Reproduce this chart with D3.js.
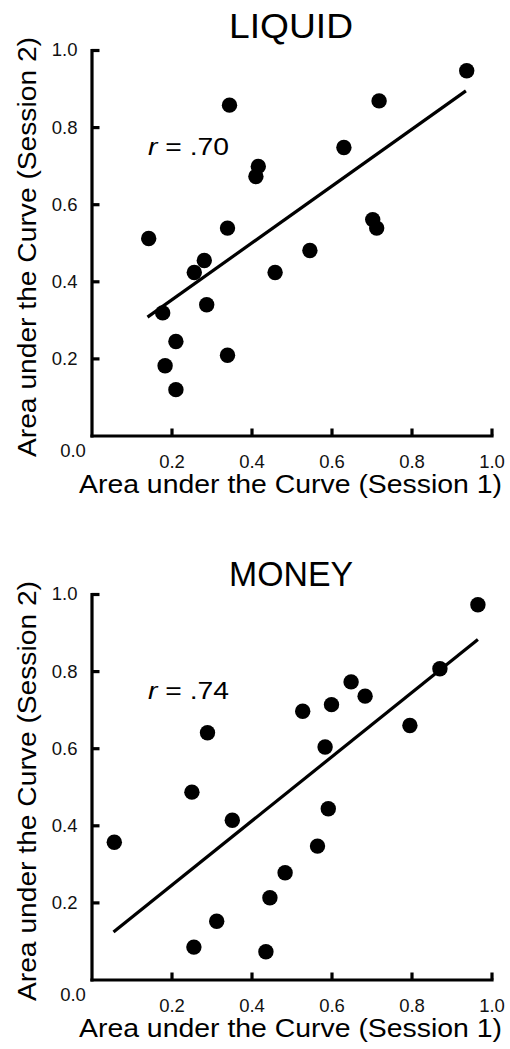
<!DOCTYPE html>
<html lang="en">
<head>
    <meta charset="UTF-8">
    <title>AUC test-retest</title>
    <script src="https://d3js.org/d3.v7.min.js"></script>
    <style>
        html, body {
            margin: 0;
            background: white;
            font-family: "Liberation Sans", Arial, sans-serif;
        }
    </style>
</head>
<body>
    <div id="vis"></div>
    <script>

        // values
        var liquidX = [0.938, 0.345, 0.719, 0.631, 0.417, 0.411, 0.143, 0.340, 0.703, 0.713,
                       0.282, 0.257, 0.459, 0.546, 0.288, 0.178, 0.211, 0.340, 0.184, 0.211];
        var liquidY = [0.946, 0.857, 0.868, 0.747, 0.698, 0.672, 0.511, 0.538, 0.560, 0.538,
                       0.454, 0.423, 0.423, 0.480, 0.339, 0.318, 0.244, 0.208, 0.181, 0.119];
        var moneyX = [0.966, 0.871, 0.649, 0.684, 0.600, 0.528, 0.796, 0.290, 0.584, 0.251,
                      0.592, 0.352, 0.057, 0.565, 0.484, 0.446, 0.313, 0.256, 0.436];
        var moneyY = [0.972, 0.806, 0.772, 0.735, 0.713, 0.696, 0.659, 0.640, 0.603, 0.486,
                      0.443, 0.413, 0.356, 0.346, 0.277, 0.212, 0.151, 0.084, 0.072];
        // fit line end points [x, y]
        var liquidFit = [[0.140, 0.307], [0.936, 0.894]];
        var moneyFit = [[0.055, 0.123], [0.966, 0.882]];

        var titles = ["LIQUID", "MONEY"];
        var rLabels = [".70", ".74"];
        var tickValues = [0.2, 0.4, 0.6, 0.8, 1.0];
        var xLabel = "Area under the Curve (Session 1)";
        var yLabel = "Area under the Curve (Session 2)";

        var panels = [
            {title: titles[0], r: rLabels[0], xs: liquidX, ys: liquidY, fit: liquidFit, base: 435.5, titleY: 38},
            {title: titles[1], r: rLabels[1], xs: moneyX, ys: moneyY, fit: moneyFit, base: 979.5, titleY: 586}
        ];

        var width = 510, height = 1049;

        var svg = d3.select('#vis')
                    .append('svg')
                        .attr('width', width)
                        .attr('height', height);

        var x_scale = d3.scaleLinear()
                    .domain([0, 1])
                    .range([91.5, 491.5]);

        panels.forEach(function(p){

            var y_scale = d3.scaleLinear()
                        .domain([0, 1])
                        .range([p.base, p.base - 385.5]);

            var g = svg.append('g');

            var x_axis = d3.axisBottom(x_scale)
                        .tickValues(tickValues)
                        .tickFormat(d3.format('.1f'))
                        .tickSizeInner(-7)
                        .tickSizeOuter(0)
                        .tickPadding(19);

            var y_axis = d3.axisLeft(y_scale)
                        .tickValues(tickValues)
                        .tickFormat(d3.format('.1f'))
                        .tickSizeInner(-8)
                        .tickSizeOuter(0)
                        .tickPadding(14);

            var gx = g.append('g')
                .attr('transform', 'translate(0,' + p.base + ')')
                .call(x_axis);

            var gy = g.append('g')
                .attr('transform', 'translate(' + x_scale(0) + ',0)')
                .call(y_axis);

            [gx, gy].forEach(function(a){
                a.attr('font-family', null).attr('font-size', null);
                a.select('.domain')
                    .attr('stroke', 'black')
                    .attr('stroke-width', 3.2)
                    .attr('stroke-linecap', 'square');
                a.selectAll('.tick line')
                    .attr('stroke', 'black')
                    .attr('stroke-width', 3.2);
                a.selectAll('.tick text')
                    .attr('fill', '#111')
                    .style('font-size', '18.5px')
                    .style('font-family', '"Liberation Sans", Arial, sans-serif');
            });

            // the lone origin label
            g.append('text')
                .attr('x', 73)
                .attr('y', p.base + 21)
                .attr('text-anchor', 'middle')
                .attr('fill', '#111')
                .style('font-size', '18.5px')
                .text('0.0');

            // fit line
            g.append('line')
                .attr('x1', x_scale(p.fit[0][0]))
                .attr('y1', y_scale(p.fit[0][1]))
                .attr('x2', x_scale(p.fit[1][0]))
                .attr('y2', y_scale(p.fit[1][1]))
                .attr('stroke', 'black')
                .attr('stroke-width', 3.2);

            // dots
            g.selectAll('.dot')
                .data(p.xs.map(function(v, i){ return [v, p.ys[i]]; }))
                .enter()
                .append('circle')
                .attr('class', 'dot')
                .attr('cx', function(d){ return x_scale(d[0]); })
                .attr('cy', function(d){ return y_scale(d[1]); })
                .attr('r', 7.7)
                .attr('fill', 'black');

            // title
            g.append('text')
                .attr('x', 291)
                .attr('y', p.titleY)
                .attr('text-anchor', 'middle')
                .attr('textLength', 124)
                .attr('lengthAdjust', 'spacingAndGlyphs')
                .style('font-size', '35px')
                .text(p.title);

            // r label
            var rt = g.append('text')
                .attr('x', 148)
                .attr('y', p.base - 281)
                .attr('textLength', 81)
                .attr('lengthAdjust', 'spacingAndGlyphs')
                .style('font-size', '24px');
            rt.append('tspan').style('font-style', 'italic').text('r');
            rt.append('tspan').text(' = ' + p.r);

            // axis titles
            g.append('text')
                .attr('x', 290.5)
                .attr('y', p.base + 57.5)
                .attr('text-anchor', 'middle')
                .attr('textLength', 423)
                .attr('lengthAdjust', 'spacingAndGlyphs')
                .style('font-size', '25px')
                .text(xLabel);

            g.append('text')
                .attr('transform', 'translate(36,' + (p.base - 188.5) + ')rotate(-90)')
                .attr('text-anchor', 'middle')
                .attr('textLength', 420)
                .attr('lengthAdjust', 'spacingAndGlyphs')
                .style('font-size', '26px')
                .text(yLabel);
        });

    </script>
</body>
</html>
